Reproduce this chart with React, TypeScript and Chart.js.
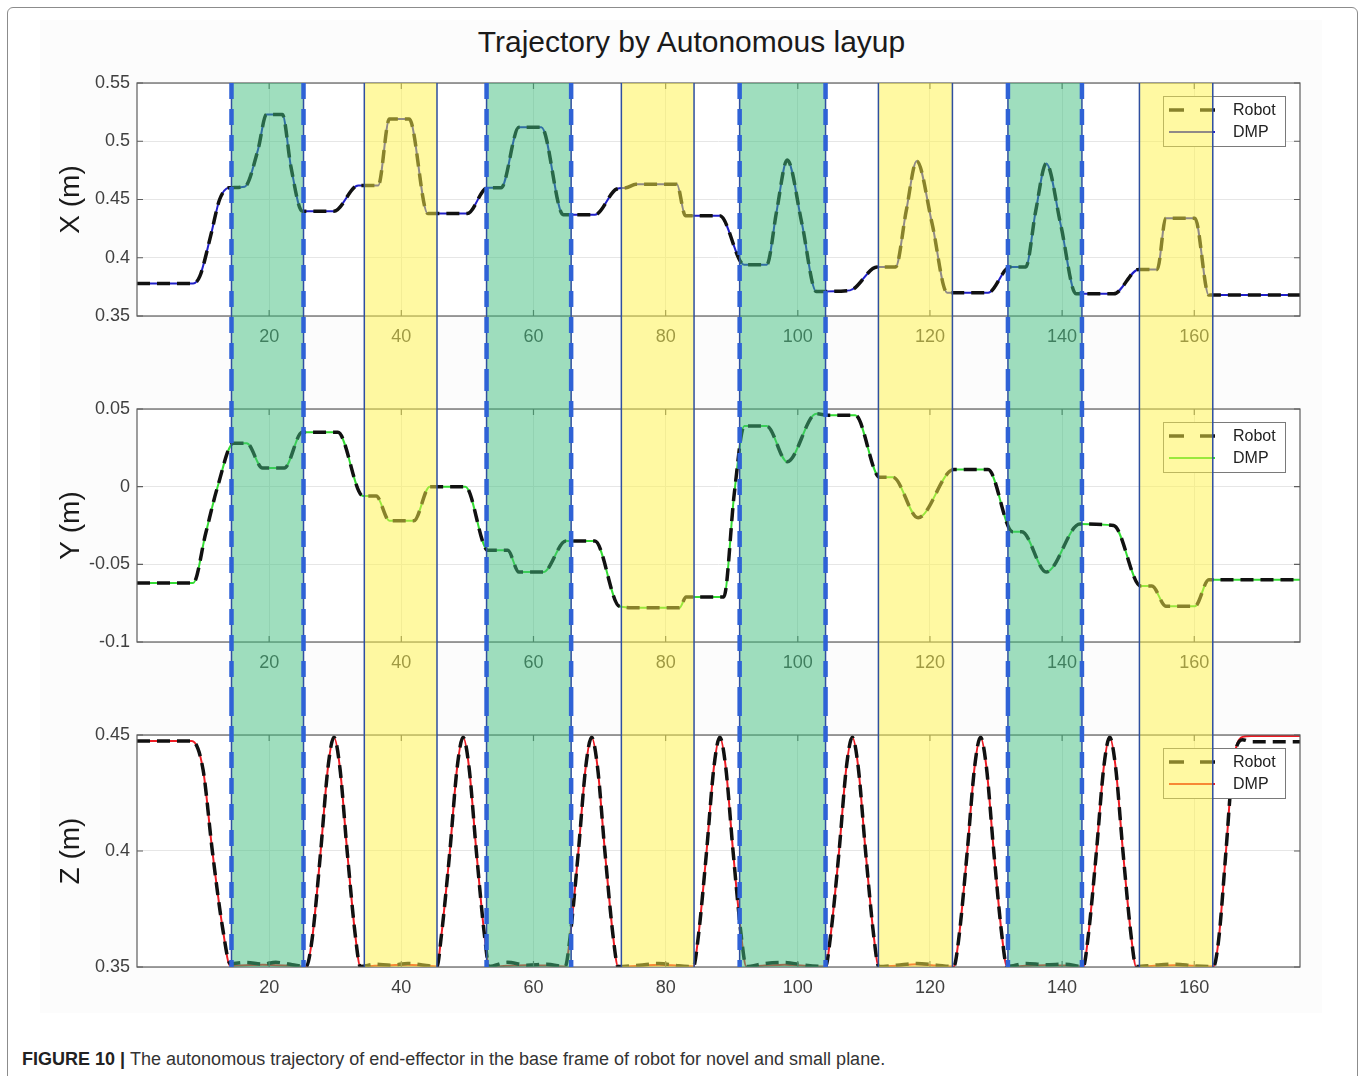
import React, { useEffect, useRef } from "react";
import { Chart, registerables } from "chart.js";

Chart.register(...registerables);

const FONT = '"Liberation Sans", Arial, Helvetica, sans-serif';

// Shared time axis
const timeMin = 0;
const timeMax = 176;
const timeTicks = [20, 40, 60, 80, 100, 120, 140, 160];

// Layup phases as [start, end] on the time axis
const greenPhases: [number, number][] = [
  [14.3, 25.2],
  [52.9, 65.7],
  [91.2, 104.2],
  [131.8, 143.0],
];
const yellowPhases: [number, number][] = [
  [34.4, 45.4],
  [73.3, 84.3],
  [112.2, 123.4],
  [151.7, 162.8],
];

// X position of the end-effector
const xTime = [
  0, 8.5, 9.5, 11.2, 12.5, 13.9, 16.3, 18.3, 19.6, 22.0, 23.3, 25.0, 29.8, 33.5,
  36.5, 38.2, 41.2, 44.0, 50.0, 53.0, 55.1, 57.8, 61.2, 64.5, 69.3, 72.6, 74.0,
  75.5, 81.7, 83.0, 88.2, 91.9, 95.3, 96.8, 98.4, 100.6, 102.8, 107.9, 112.0,
  114.8, 116.4, 118.0, 120.3, 122.6, 128.8, 132.1, 134.5, 136.0, 137.6, 139.8,
  142.1, 147.8, 151.6, 154.4, 155.7, 160.1, 162.2, 176,
];
const xRobot = [
  0.378, 0.378, 0.384, 0.42, 0.45, 0.46, 0.461, 0.4925, 0.523, 0.523, 0.478,
  0.44, 0.44, 0.462, 0.462, 0.519, 0.519, 0.438, 0.438, 0.46, 0.46, 0.512,
  0.512, 0.437, 0.437, 0.459, 0.46, 0.463, 0.463, 0.436, 0.436, 0.394, 0.394,
  0.44, 0.484, 0.43, 0.371, 0.372, 0.392, 0.392, 0.44, 0.483, 0.43, 0.37, 0.37,
  0.392, 0.392, 0.44, 0.481, 0.428, 0.369, 0.369, 0.39, 0.39, 0.434, 0.434,
  0.368, 0.368,
];
// the DMP reproduction overlays the recorded X path
const xDmp = xRobot;

// Y position of the end-effector
const yTime = [
  0, 8.5, 10.4, 12.2, 14.6, 16.6, 19.0, 22.3, 25.0, 30.4, 34.2, 36.2, 38.2,
  41.9, 44.3, 49.7, 53.1, 56.1, 57.8, 61.5, 64.9, 69.3, 73.0, 76.0, 82.1, 83.1,
  88.8, 90.4, 91.9, 95.3, 98.4, 102.8, 104.5, 108.7, 112.4, 114.4, 118.2, 123.6,
  128.8, 132.5, 133.9, 137.6, 142.7, 147.8, 151.9, 153.6, 155.7, 160.1, 162.2,
  176,
];
const yRobot = [
  -0.062, -0.062, -0.03, 0.0, 0.028, 0.028, 0.012, 0.012, 0.035, 0.035, -0.006,
  -0.006, -0.022, -0.022, 0.0, 0.0, -0.041, -0.041, -0.055, -0.055, -0.035,
  -0.035, -0.077, -0.078, -0.078, -0.071, -0.071, -0.004, 0.039, 0.039, 0.016,
  0.047, 0.046, 0.046, 0.006, 0.006, -0.02, 0.011, 0.011, -0.029, -0.029,
  -0.055, -0.024, -0.025, -0.064, -0.064, -0.077, -0.077, -0.06, -0.06,
];
const yDmp = yRobot;

// Z position of the end-effector
const zTime = [
  0, 8.3, 10.0, 11.4, 13.0,
  14.1, 16.5, 19.0, 21.0, 23.5, 25.6,
  26.5, 27.8, 28.9, 29.8, 30.7, 31.8, 33.1, 33.8,
  36.0, 38.5, 41.0, 43.5, 45.4,
  46.0, 47.35, 48.45, 49.35, 50.25, 51.35, 52.65, 53.3,
  56.0, 59.0, 62.0, 64.8,
  65.5, 66.8, 67.9, 68.8, 69.7, 70.8, 72.1, 72.8,
  76.0, 79.0, 82.0, 84.2,
  84.9, 86.2, 87.3, 88.2, 89.1, 90.2, 91.5, 92.2,
  95.0, 98.0, 101.0, 104.2,
  104.9, 106.25, 107.35, 108.25, 109.15, 110.25, 111.55, 112.25,
  115.0, 118.0, 121.0, 123.6,
  124.35, 125.65, 126.75, 127.65, 128.55, 129.65, 130.95, 131.65,
  134.5, 137.5, 140.5, 143.2,
  143.9, 145.2, 146.3, 147.2, 148.1, 149.2, 150.5, 151.2,
  154.0, 157.0, 160.0, 162.9,
  163.7, 164.8, 165.8, 167.3, 168.6, 176,
];
const zRobot = [
  0.4474, 0.4474, 0.435, 0.4, 0.366,
  0.3515, 0.352, 0.3512, 0.352, 0.351, 0.3502,
  0.362, 0.4, 0.436, 0.449, 0.436, 0.4, 0.362, 0.3502,
  0.3512, 0.3508, 0.3515, 0.3508, 0.3502,
  0.362, 0.4, 0.436, 0.449, 0.436, 0.4, 0.362, 0.3502,
  0.352, 0.3508, 0.3512, 0.3502,
  0.362, 0.4, 0.436, 0.449, 0.436, 0.4, 0.362, 0.3502,
  0.3508, 0.3515, 0.3505, 0.3502,
  0.362, 0.4, 0.436, 0.449, 0.436, 0.4, 0.362, 0.3502,
  0.3515, 0.352, 0.3508, 0.3502,
  0.362, 0.4, 0.436, 0.449, 0.436, 0.4, 0.362, 0.3502,
  0.3508, 0.3515, 0.3508, 0.3502,
  0.362, 0.4, 0.436, 0.449, 0.436, 0.4, 0.362, 0.3502,
  0.3515, 0.351, 0.3512, 0.3502,
  0.362, 0.4, 0.436, 0.449, 0.436, 0.4, 0.362, 0.3502,
  0.3508, 0.3512, 0.3505, 0.3502,
  0.362, 0.4, 0.436, 0.448, 0.4471, 0.4471,
];
const zDmp = [
  0.4474, 0.4474, 0.435, 0.4, 0.366,
  0.3505, 0.3508, 0.351, 0.3508, 0.3505, 0.3502,
  0.362, 0.4, 0.436, 0.449, 0.436, 0.4, 0.362, 0.3502,
  0.3505, 0.3508, 0.351, 0.3505, 0.3502,
  0.362, 0.4, 0.436, 0.449, 0.436, 0.4, 0.362, 0.3502,
  0.3505, 0.3508, 0.3506, 0.3502,
  0.362, 0.4, 0.436, 0.449, 0.436, 0.4, 0.362, 0.3502,
  0.3505, 0.351, 0.3505, 0.3502,
  0.362, 0.4, 0.436, 0.449, 0.436, 0.4, 0.362, 0.3502,
  0.3506, 0.351, 0.3505, 0.3502,
  0.362, 0.4, 0.436, 0.449, 0.436, 0.4, 0.362, 0.3502,
  0.3505, 0.3512, 0.3506, 0.3502,
  0.362, 0.4, 0.436, 0.449, 0.436, 0.4, 0.362, 0.3502,
  0.3505, 0.3508, 0.3506, 0.3502,
  0.362, 0.4, 0.436, 0.449, 0.436, 0.4, 0.362, 0.3502,
  0.3505, 0.3508, 0.3505, 0.3502,
  0.362, 0.4, 0.436, 0.4492, 0.4496, 0.4496,
];

// Axis ticks per panel
const xAxisTicks = [0.35, 0.4, 0.45, 0.5, 0.55];
const yAxisTicks = [-0.1, -0.05, 0, 0.05];
const zAxisTicks = [0.35, 0.4, 0.45];

type PanelProps = {
  top: number;
  height: number;
  areaTop: number;
  areaBottom: number;
  time: number[];
  robot: number[];
  dmp: number[];
  dmpColor: string;
  yTicks: number[];
  yTitle: string;
  bandFromArea: boolean;
  bandToArea: boolean;
};

function Panel(p: PanelProps) {
  const ref = useRef<HTMLCanvasElement | null>(null);

  useEffect(() => {
    const canvas = ref.current;
    if (!canvas) return;

    const overlay = {
      id: "layupOverlay",
      beforeDraw(chart: any) {
        const { ctx, chartArea: a } = chart;
        ctx.save();
        ctx.fillStyle = "#ffffff";
        ctx.fillRect(a.left, a.top, a.right - a.left, a.bottom - a.top);
        ctx.restore();
      },
      afterDraw(chart: any) {
        const { ctx, chartArea: a, scales } = chart;
        const xs = scales.x;
        const ys = scales.y;
        ctx.save();

        // axes box with inward tick marks
        ctx.strokeStyle = "#5e5e5e";
        ctx.lineWidth = 1.2;
        ctx.setLineDash([]);
        ctx.strokeRect(a.left, a.top, a.right - a.left, a.bottom - a.top);
        ctx.beginPath();
        for (const v of timeTicks) {
          const px = xs.getPixelForValue(v);
          ctx.moveTo(px, a.bottom);
          ctx.lineTo(px, a.bottom - 6);
          ctx.moveTo(px, a.top);
          ctx.lineTo(px, a.top + 6);
        }
        for (const v of p.yTicks) {
          const py = ys.getPixelForValue(v);
          ctx.moveTo(a.left, py);
          ctx.lineTo(a.left + 6, py);
          ctx.moveTo(a.right, py);
          ctx.lineTo(a.right - 6, py);
        }
        ctx.stroke();

        // legend box in the upper right corner
        const lw = 122;
        const lh = 50;
        const lx = a.right - 15 - lw;
        const ly = a.top + 13;
        ctx.fillStyle = "#ffffff";
        ctx.fillRect(lx, ly, lw, lh);
        ctx.strokeStyle = "#7a7a7a";
        ctx.lineWidth = 1;
        ctx.strokeRect(lx + 0.5, ly + 0.5, lw, lh);
        ctx.font = `16px ${FONT}`;
        ctx.textBaseline = "middle";
        ctx.textAlign = "left";
        chart.data.datasets.forEach((ds: any, i: number) => {
          const cy = ly + 14 + i * 22;
          ctx.beginPath();
          ctx.strokeStyle = ds.borderColor;
          ctx.lineWidth = ds.borderWidth;
          ctx.setLineDash(ds.borderDash ? [15, 16] : []);
          ctx.moveTo(lx + 6, cy);
          ctx.lineTo(lx + 52, cy);
          ctx.stroke();
          ctx.setLineDash([]);
          ctx.fillStyle = "#222222";
          ctx.fillText(ds.label, lx + 70, cy + 1);
        });

        // layup phase bands, translucent over everything
        const bTop = p.bandFromArea ? a.top : 0;
        const bBottom = p.bandToArea ? a.bottom : chart.height;
        const drawBand = (
          [s, e]: [number, number],
          fill: string,
          dashed: boolean
        ) => {
          const x1 = xs.getPixelForValue(s);
          const x2 = xs.getPixelForValue(e);
          ctx.fillStyle = fill;
          ctx.fillRect(x1, bTop, x2 - x1, bBottom - bTop);
          ctx.setLineDash([]);
          ctx.strokeStyle = "#2f4f9f";
          ctx.lineWidth = 1.5;
          ctx.beginPath();
          ctx.moveTo(x1, bTop);
          ctx.lineTo(x1, bBottom);
          ctx.moveTo(x2, bTop);
          ctx.lineTo(x2, bBottom);
          ctx.stroke();
          if (dashed) {
            ctx.strokeStyle = "#2f62d6";
            ctx.lineWidth = 4.5;
            ctx.setLineDash([16, 10]);
            ctx.beginPath();
            ctx.moveTo(x1, bTop);
            ctx.lineTo(x1, bBottom);
            ctx.moveTo(x2, bTop);
            ctx.lineTo(x2, bBottom);
            ctx.stroke();
            ctx.setLineDash([]);
          }
        };
        greenPhases.forEach((b) => drawBand(b, "rgba(64, 190, 125, 0.5)", true));
        yellowPhases.forEach((b) => drawBand(b, "rgba(255, 244, 70, 0.5)", false));

        ctx.restore();
      },
    };

    const toPoints = (vals: number[]) =>
      p.time.map((t, i) => ({ x: t, y: vals[i] }));

    const chart = new Chart(canvas, {
      type: "line",
      data: {
        datasets: [
          {
            label: "Robot",
            data: toPoints(p.robot),
            borderColor: "#111111",
            borderWidth: 3.5,
            borderDash: [13, 7],
            pointRadius: 0,
            cubicInterpolationMode: "monotone",
            fill: false,
          },
          {
            label: "DMP",
            data: toPoints(p.dmp),
            borderColor: p.dmpColor,
            borderWidth: 2,
            pointRadius: 0,
            cubicInterpolationMode: "monotone",
            fill: false,
          },
        ],
      },
      options: {
        responsive: false,
        animation: false,
        events: [],
        layout: {
          padding: { left: 50, right: 62, top: p.areaTop - p.top, bottom: 0 },
        },
        plugins: {
          legend: { display: false },
          tooltip: { enabled: false },
          title: { display: false },
        },
        scales: {
          x: {
            type: "linear",
            min: timeMin,
            max: timeMax,
            afterBuildTicks: (s: any) => {
              s.ticks = timeTicks.map((v) => ({ value: v }));
            },
            afterFit: (s: any) => {
              s.height = p.top + p.height - p.areaBottom;
            },
            ticks: {
              callback: (v: any) => String(v),
              color: "#404040",
              font: { family: FONT, size: 18 },
              padding: 10,
              maxRotation: 0,
              autoSkip: false,
            },
            grid: { color: "#e6e6e6", drawTicks: false },
            border: { display: false },
          },
          y: {
            type: "linear",
            min: p.yTicks[0],
            max: p.yTicks[p.yTicks.length - 1],
            afterBuildTicks: (s: any) => {
              s.ticks = p.yTicks.map((v) => ({ value: v }));
            },
            afterFit: (s: any) => {
              s.width = 87;
            },
            ticks: {
              callback: (v: any) => String(v),
              color: "#404040",
              font: { family: FONT, size: 18 },
              padding: 7,
              autoSkip: false,
            },
            grid: { color: "#e6e6e6", drawTicks: false },
            border: { display: false },
            title: {
              display: true,
              text: p.yTitle,
              color: "#1a1a1a",
              font: { family: FONT, size: 28 },
              padding: { top: 4, bottom: 0 },
            },
          },
        },
      },
      plugins: [overlay],
    } as any);

    return () => chart.destroy();
  }, []);

  return (
    <canvas
      ref={ref}
      width={1362}
      height={p.height}
      style={{
        position: "absolute",
        left: 0,
        top: p.top,
        width: 1362,
        height: p.height,
      }}
    />
  );
}

export default function App() {
  return (
    <div
      style={{
        position: "absolute",
        left: 0,
        top: 0,
        width: 1362,
        height: 1076,
        background: "#ffffff",
        overflow: "hidden",
        fontFamily: FONT,
      }}
    >
      <div
        style={{
          position: "absolute",
          left: 7,
          top: 7,
          width: 1351,
          height: 1100,
          border: "1.5px solid #8c8c8c",
          borderRadius: 6,
          boxSizing: "border-box",
        }}
      />
      <div
        style={{
          position: "absolute",
          left: 40,
          top: 20,
          width: 1282,
          height: 993,
          background: "#fcfcfc",
        }}
      />
      <div
        style={{
          position: "absolute",
          left: 0,
          top: 27,
          width: 1383,
          textAlign: "center",
          fontSize: 30,
          lineHeight: "29px",
          color: "#1a1a1a",
          whiteSpace: "nowrap",
        }}
      >
        Trajectory by Autonomous layup
      </div>
      <Panel
        top={55}
        height={320}
        areaTop={83}
        areaBottom={316}
        time={xTime}
        robot={xRobot}
        dmp={xDmp}
        dmpColor="#2020c8"
        yTicks={xAxisTicks}
        yTitle="X (m)"
        bandFromArea={true}
        bandToArea={false}
      />
      <Panel
        top={375}
        height={325}
        areaTop={409}
        areaBottom={642}
        time={yTime}
        robot={yRobot}
        dmp={yDmp}
        dmpColor="#35dc35"
        yTicks={yAxisTicks}
        yTitle="Y (m)"
        bandFromArea={false}
        bandToArea={false}
      />
      <Panel
        top={700}
        height={310}
        areaTop={735}
        areaBottom={967}
        time={zTime}
        robot={zRobot}
        dmp={zDmp}
        dmpColor="#ee1c24"
        yTicks={zAxisTicks}
        yTitle="Z (m)"
        bandFromArea={false}
        bandToArea={true}
      />
      <div
        style={{
          position: "absolute",
          left: 22,
          top: 1050,
          fontSize: 18,
          lineHeight: "18px",
          color: "#333333",
          whiteSpace: "nowrap",
        }}
      >
        <span style={{ fontWeight: "bold", color: "#222222" }}>FIGURE 10 | </span>
        The autonomous trajectory of end-effector in the base frame of robot for
        novel and small plane.
      </div>
    </div>
  );
}
